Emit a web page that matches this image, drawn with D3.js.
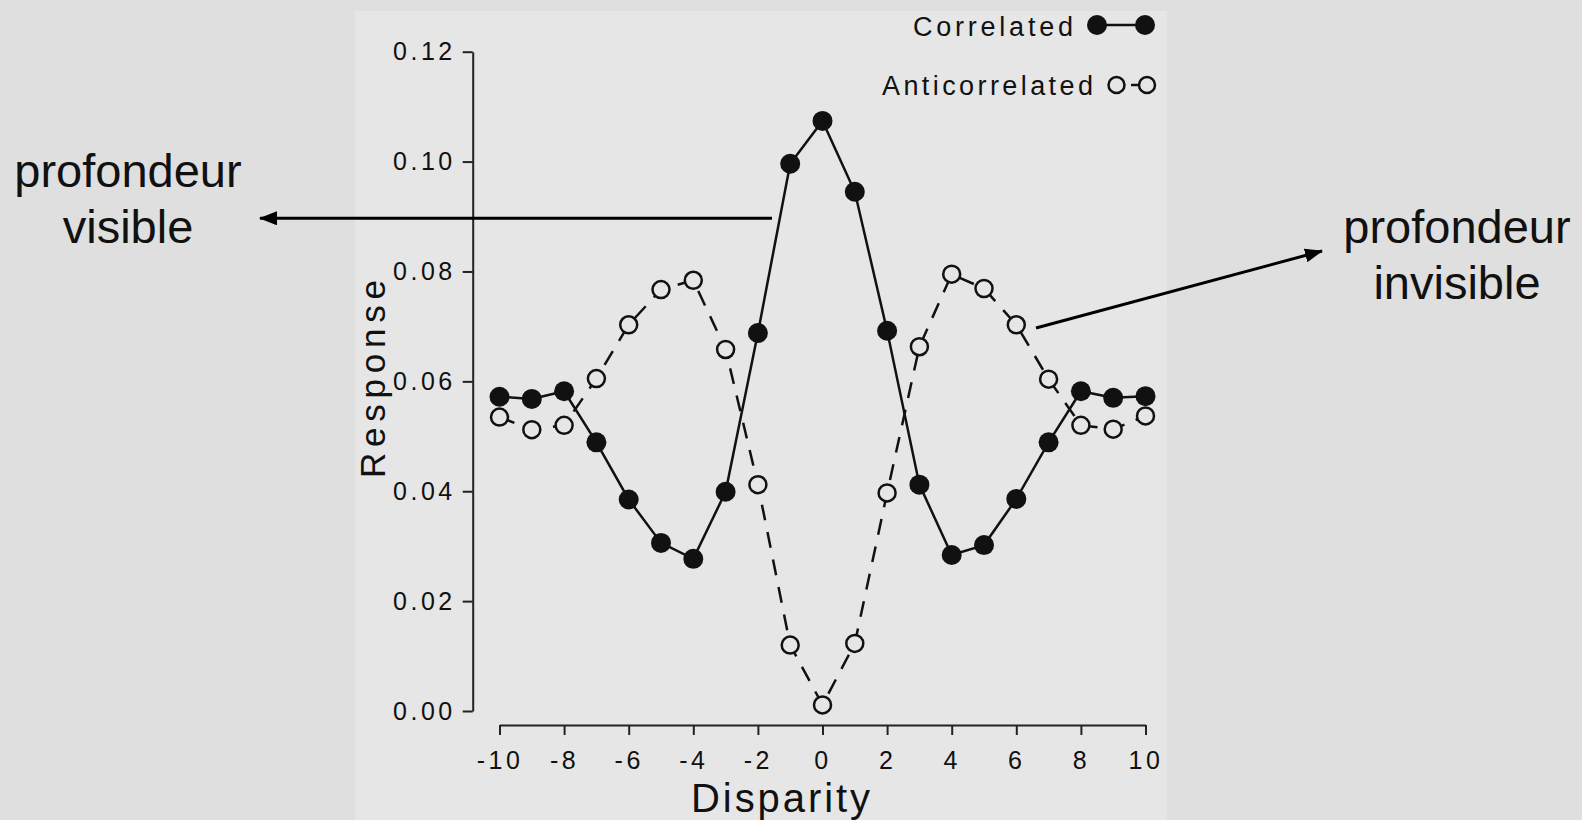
<!DOCTYPE html>
<html>
<head>
<meta charset="utf-8">
<script src="https://cdn.jsdelivr.net/npm/d3@7.9.0/dist/d3.min.js"></script>
<style>
  html, body { margin: 0; padding: 0; background: #dfdfdf; }
  svg { display: block; }
  text { font-family: "Liberation Sans", Arial, Helvetica, sans-serif; fill: #111; }
</style>
</head>
<body>
<svg id="chart" width="1582" height="820"></svg>
<script>
// disparity values on the x axis
const disparity = [-10, -9, -8, -7, -6, -5, -4, -3, -2, -1, 0, 1, 2, 3, 4, 5, 6, 7, 8, 9, 10];
// responses
const correlated = [0.0572, 0.0568, 0.0582, 0.0489, 0.0385, 0.0306, 0.0277, 0.0399, 0.0688, 0.0996,
    0.1074, 0.0945, 0.0692, 0.0412, 0.0284, 0.0302, 0.0386, 0.0489, 0.0582, 0.0570, 0.0573];
const anticorrelated = [0.0535, 0.0512, 0.0520, 0.0605, 0.0703, 0.0767, 0.0784, 0.0658, 0.0412, 0.0120,
    0.0011, 0.0123, 0.0397, 0.0663, 0.0795, 0.0769, 0.0703, 0.0604, 0.0520, 0.0513, 0.0537];
const xTicks = [-10, -8, -6, -4, -2, 0, 2, 4, 6, 8, 10];
const yTicks = [0, 0.02, 0.04, 0.06, 0.08, 0.10, 0.12];

const svg = d3.select('#chart');
const panelColor = '#e6e6e6';

// lighter scanned panel behind the plot
svg.append('rect')
    .attr('x', 355).attr('y', 11)
    .attr('width', 812).attr('height', 820)
    .attr('fill', panelColor);

const x = d3.scaleLinear().domain([-10, 10]).range([499.5, 1145.5]);
const y = d3.scaleLinear().domain([0, 0.12]).range([711, 51.7]);

// y axis
const yAxis = svg.append('g')
    .attr('transform', 'translate(472.7,0)')
    .call(d3.axisLeft(y).tickValues(yTicks).tickSize(10).tickSizeOuter(0).tickPadding(7)
        .tickFormat((d) => d.toFixed(2)));
// x axis (plain hyphen for negatives, as in the original)
const xAxis = svg.append('g')
    .attr('transform', 'translate(0,725)')
    .call(d3.axisBottom(x).tickValues(xTicks).tickSize(10).tickSizeOuter(0).tickPadding(16)
        .tickFormat((d) => String(d)));

[yAxis, xAxis].forEach((ax) => {
    ax.selectAll('path, line').attr('stroke', '#222').attr('stroke-width', 2);
    ax.selectAll('text')
        .attr('font-size', 25)
        .attr('letter-spacing', 3.5)
        .attr('fill', '#111')
        .attr('font-family', '"Liberation Sans", Arial, sans-serif');
});

// axis titles
svg.append('text')
    .attr('x', 691).attr('y', 812)
    .attr('font-size', 40)
    .attr('textLength', 179)
    .attr('lengthAdjust', 'spacing')
    .text('Disparity');

svg.append('text')
    .attr('transform', 'translate(385,478) rotate(-90)')
    .attr('font-size', 35)
    .attr('textLength', 198)
    .attr('lengthAdjust', 'spacing')
    .text('Response');

const points = disparity.map((d, i) => ({ d, c: correlated[i], a: anticorrelated[i] }));

// anticorrelated: dashed line, open circles
svg.append('path')
    .datum(points)
    .attr('d', d3.line().x((p) => x(p.d)).y((p) => y(p.a)))
    .attr('fill', 'none')
    .attr('stroke', '#111')
    .attr('stroke-width', 2.5)
    .attr('stroke-dasharray', '16,12');

// correlated: solid line, filled circles
svg.append('path')
    .datum(points)
    .attr('d', d3.line().x((p) => x(p.d)).y((p) => y(p.c)))
    .attr('fill', 'none')
    .attr('stroke', '#111')
    .attr('stroke-width', 2.5);

svg.selectAll('.open')
    .data(points)
    .join('circle')
    .attr('class', 'open')
    .attr('cx', (p) => x(p.d))
    .attr('cy', (p) => y(p.a))
    .attr('r', 8.5)
    .attr('fill', panelColor)
    .attr('stroke', '#111')
    .attr('stroke-width', 2.5);

svg.selectAll('.filled')
    .data(points)
    .join('circle')
    .attr('class', 'filled')
    .attr('cx', (p) => x(p.d))
    .attr('cy', (p) => y(p.c))
    .attr('r', 10)
    .attr('fill', '#111');

// legend
const legend = svg.append('g');
legend.append('text')
    .attr('x', 913).attr('y', 36)
    .attr('font-size', 27)
    .attr('textLength', 160)
    .attr('lengthAdjust', 'spacing')
    .text('Correlated');
legend.append('line')
    .attr('x1', 1097).attr('x2', 1145).attr('y1', 25).attr('y2', 25)
    .attr('stroke', '#111').attr('stroke-width', 2.5);
[1097, 1145].forEach((cx) => {
    legend.append('circle').attr('cx', cx).attr('cy', 25).attr('r', 10).attr('fill', '#111');
});

legend.append('text')
    .attr('x', 882).attr('y', 95)
    .attr('font-size', 27)
    .attr('textLength', 211)
    .attr('lengthAdjust', 'spacing')
    .text('Anticorrelated');
legend.append('line')
    .attr('x1', 1131).attr('x2', 1140).attr('y1', 85).attr('y2', 85)
    .attr('stroke', '#111').attr('stroke-width', 2.5);
[1116.5, 1147].forEach((cx) => {
    legend.append('circle').attr('cx', cx).attr('cy', 85).attr('r', 8)
        .attr('fill', panelColor).attr('stroke', '#111').attr('stroke-width', 2.5);
});

// annotation arrows
const defs = svg.append('defs');
defs.append('marker')
    .attr('id', 'head')
    .attr('viewBox', '0 0 18 14')
    .attr('refX', 17).attr('refY', 7)
    .attr('markerWidth', 18).attr('markerHeight', 14)
    .attr('markerUnits', 'userSpaceOnUse')
    .attr('orient', 'auto')
    .append('path')
    .attr('d', 'M0,0 L18,7 L0,14 Z')
    .attr('fill', '#000');

svg.append('line')
    .attr('x1', 772).attr('y1', 218.3).attr('x2', 260).attr('y2', 218.3)
    .attr('stroke', '#000').attr('stroke-width', 3)
    .attr('marker-end', 'url(#head)');

svg.append('line')
    .attr('x1', 1036).attr('y1', 328).attr('x2', 1322).attr('y2', 251)
    .attr('stroke', '#000').attr('stroke-width', 3)
    .attr('marker-end', 'url(#head)');

// annotation labels
const notes = [
    { lines: ['profondeur', 'visible'], x: 128, y: 187 },
    { lines: ['profondeur', 'invisible'], x: 1457, y: 243 }
];
notes.forEach((n) => {
    n.lines.forEach((t, i) => {
        svg.append('text')
            .attr('x', n.x).attr('y', n.y + i * 56)
            .attr('text-anchor', 'middle')
            .attr('font-size', 47)
            .attr('fill', '#000')
            .text(t);
    });
});
</script>
</body>
</html>
